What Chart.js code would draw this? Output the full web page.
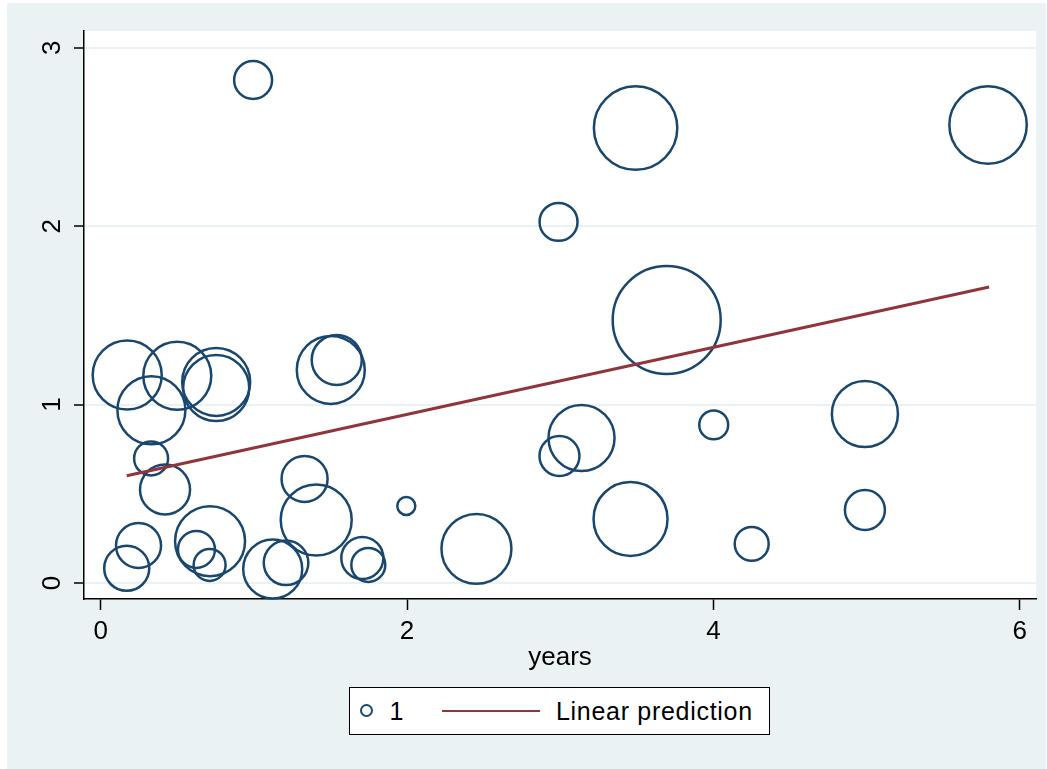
<!DOCTYPE html>
<html lang="en">
<head>
<meta charset="UTF-8">
<title>Weighted scatter with linear prediction</title>
<script src="https://cdn.jsdelivr.net/npm/chart.js"></script>
<style>
    body { margin: 0; background: #fff; font-family: "Liberation Sans", Arial, sans-serif; }
    .graph { position: absolute; left: 7px; top: 3px; width: 1039px; height: 766px; background: #eaf2f3; }
    .chart-box { position: absolute; left: 0; top: 0; width: 1039px; height: 677px; }
    .legend { position: absolute; left: 342px; top: 684px; width: 421px; height: 48px; box-sizing: border-box;
              border: 1.5px solid #000; background: #fff; color: #000; }
    .legend span { position: absolute; }
    .legend .txt { font-size: 25px; line-height: 30px; top: 7.5px; white-space: nowrap; letter-spacing: 0.7px; }
    .mk-circle { left: 10px; top: 16px; width: 13px; height: 13px; box-sizing: border-box; border-radius: 50%;
                 border: 2.5px solid #1a476f; }
    .mk-line { left: 91.5px; top: 21.5px; width: 98px; height: 2px; background: #90353b; }
</style>
</head>
<body>
<div class="graph">
    <div class="chart-box"><canvas id="chart"></canvas></div>
    <div class="legend">
        <span class="mk-circle"></span>
        <span class="txt" style="left: 39.5px;">1</span>
        <span class="mk-line"></span>
        <span class="txt" style="left: 206px;">Linear prediction</span>
    </div>
</div>

<script>
    // values
    const years = [0.995, 3.492, 5.793, 2.989, 3.695, 0.173, 0.500, 0.331, 0.754, 0.754,
                   1.502, 1.541, 0.329, 0.420, 1.331, 1.407, 0.170, 0.247, 0.714, 0.625,
                   0.711, 1.123, 1.210, 1.708, 1.747, 1.995, 2.453, 2.995, 3.139, 3.459,
                   4.002, 4.250, 4.989, 4.989];
    const outcome = [2.819, 2.550, 2.567, 2.024, 1.474, 1.166, 1.161, 0.968, 1.127, 1.093,
                     1.194, 1.250, 0.698, 0.524, 0.583, 0.353, 0.082, 0.210, 0.234, 0.188,
                     0.101, 0.078, 0.113, 0.140, 0.101, 0.432, 0.191, 0.712, 0.813, 0.359,
                     0.886, 0.219, 0.947, 0.409];
    const weights = [10.0, 48.3, 41.6, 10.0, 81.0, 33.1, 32.1, 32.1, 32.1, 30.3,
                     32.1, 17.4, 8.0, 17.4, 14.7, 35.0, 14.1, 14.1, 34.0, 9.5,
                     7.1, 24.2, 13.8, 12.3, 8.0, 2.25, 34.0, 11.1, 30.3, 38.0,
                     5.8, 8.0, 30.3, 11.1];

    const fitYears = [0.17, 5.80];
    const fitValues = [0.601, 1.659];

    const xTicks = [0, 2, 4, 6];
    const yTicks = [0, 1, 2, 3];

    const navy = '#1a476f';
    const maroon = '#90353b';
    const gridColor = '#eaf2f3';
    const fontFamily = '"Liberation Sans", Arial, sans-serif';

    const bubbles = years.map((x, i) => ({ x: x, y: outcome[i], r: 6 * Math.sqrt(weights[i]) }));
    const fitLine = fitYears.map((x, i) => ({ x: x, y: fitValues[i] }));

    // white plot region behind the grid
    const plotRegion = {
        id: 'plotRegion',
        beforeDraw(chart) {
            const a = chart.chartArea;
            const ctx = chart.ctx;
            ctx.save();
            ctx.fillStyle = '#fff';
            ctx.fillRect(a.left, a.top, a.right - a.left, a.bottom - a.top);
            ctx.restore();
        }
    };

    new Chart(document.getElementById('chart'), {
        type: 'bubble',
        data: {
            datasets: [
                {
                    type: 'bubble',
                    label: '1',
                    data: bubbles,
                    backgroundColor: 'rgba(0,0,0,0)',
                    borderColor: navy,
                    borderWidth: 2.5,
                    clip: false,
                    order: 1
                },
                {
                    type: 'line',
                    label: 'Linear prediction',
                    data: fitLine,
                    borderColor: maroon,
                    borderWidth: 3,
                    pointRadius: 0,
                    clip: false,
                    order: 0
                }
            ]
        },
        options: {
            responsive: true,
            maintainAspectRatio: false,
            animation: false,
            events: [],
            layout: { autoPadding: false, padding: { top: 28, right: 10, left: 0, bottom: 0 } },
            plugins: { legend: { display: false }, tooltip: { enabled: false } },
            scales: {
                x: {
                    type: 'linear',
                    min: -0.109,
                    max: 6.106,
                    afterBuildTicks: s => { s.ticks = xTicks.map(v => ({ value: v })); },
                    afterFit: s => { s.height = 81; s.paddingLeft = 0; s.paddingRight = 0; },
                    grid: { drawOnChartArea: false, tickLength: 11, tickColor: '#000', tickWidth: 1.5 },
                    border: { color: '#000', width: 1.5 },
                    ticks: { color: '#000', font: { size: 26, family: fontFamily }, padding: 6, maxRotation: 0 },
                    title: {
                        display: true, text: 'years', color: '#000',
                        font: { size: 26, family: fontFamily }, padding: { top: 0, bottom: 7 }
                    }
                },
                y: {
                    type: 'linear',
                    min: -0.09,
                    max: 3.094,
                    afterBuildTicks: s => { s.ticks = yTicks.map(v => ({ value: v })); },
                    afterFit: s => { s.width = 77; s.paddingTop = 0; s.paddingBottom = 0; },
                    grid: { color: gridColor, lineWidth: 2, tickLength: 10, tickColor: '#000', tickWidth: 1.5 },
                    border: { color: '#000', width: 1.5 },
                    ticks: {
                        color: '#000', font: { size: 26, family: fontFamily }, padding: 14,
                        minRotation: 90, maxRotation: 90, crossAlign: 'center'
                    }
                }
            }
        },
        plugins: [plotRegion]
    });
</script>
</body>
</html>
